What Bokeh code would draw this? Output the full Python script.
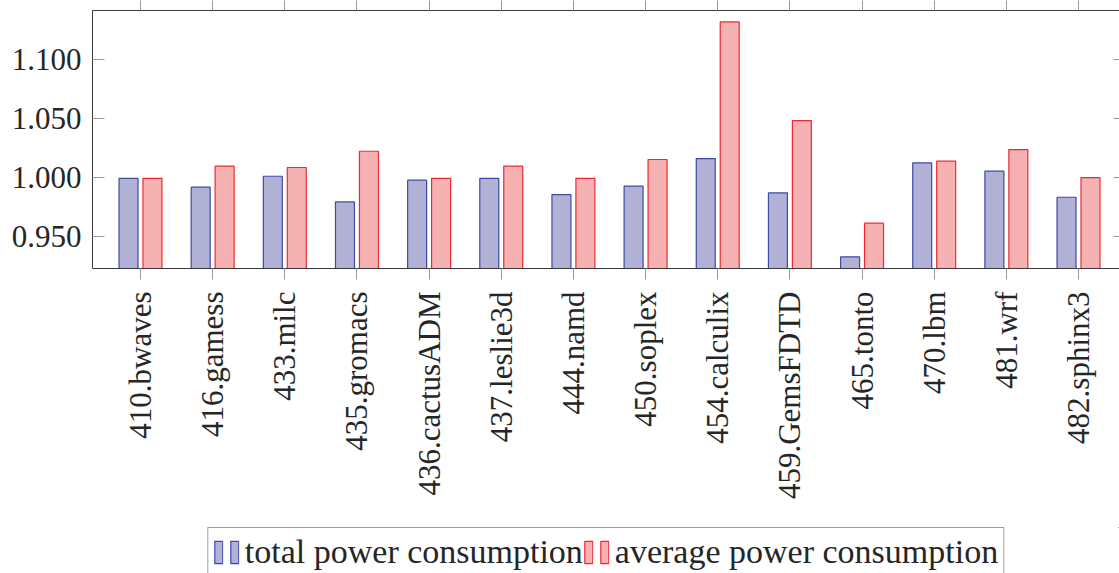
import math
from bokeh.plotting import figure
from bokeh.layouts import column
from bokeh.models import (Range1d, FixedTicker, LinearAxis, Legend, LegendItem,
                          NumeralTickFormatter, ColumnDataSource, CustomJSTickFormatter)
from bokeh.transform import dodge
from bokeh.core.properties import value
from bokeh.embed import file_html
from bokeh.resources import INLINE

benchmarks = ["410.bwaves", "416.gamess", "433.milc", "435.gromacs", "436.cactusADM",
              "437.leslie3d", "444.namd", "450.soplex", "454.calculix", "459.GemsFDTD",
              "465.tonto", "470.lbm", "481.wrf", "482.sphinx3"]
total_power = [0.999, 0.9915, 1.0008, 0.979, 0.9975, 0.999, 0.9853, 0.9924, 1.0158,
               0.9867, 0.9325, 1.0121, 1.0051, 0.983]
average_power = [0.999, 1.0093, 1.0082, 1.022, 0.999, 1.0093, 0.999, 1.015, 1.1316,
                 1.048, 0.961, 1.0136, 1.0234, 0.9997]
y_ticks = [0.95, 1.0, 1.05, 1.1]
series_names = ["total power consumption", "average power consumption"]

positions = list(range(len(benchmarks)))
src = ColumnDataSource(dict(pos=positions, total=total_power, avg=average_power))

FONT = "'Liberation Serif', 'DejaVu Serif', serif"
TEXT = "#262626"
AXIS = "#3a3a3a"
TICK = "#9a9a9a"
BLUE_FILL, BLUE_LINE = "#b1b1d6", "#3b4ba6"
RED_FILL, RED_LINE = "#f6b1b3", "#ee2a30"

p = figure(width=1119, height=527, output_backend="svg", toolbar_location=None,
           x_range=Range1d(-0.665, 13.568), y_range=Range1d(0.9226, 1.1413),
           min_border_left=92, min_border_right=0, min_border_top=10, min_border_bottom=259,
           x_axis_location=None, y_axis_location=None)
p.outline_line_color = None
for g in p.grid:
    g.visible = False

blank = CustomJSTickFormatter(code="return ''")

bottom = LinearAxis(ticker=FixedTicker(ticks=positions),
                    major_label_overrides={i: n for i, n in zip(positions, benchmarks)},
                    major_label_orientation=math.pi / 2,
                    major_label_text_font=FONT, major_label_text_font_size="31px",
                    major_label_text_color=TEXT, major_label_standoff=12,
                    major_tick_in=0, major_tick_out=11, major_tick_line_color=TICK,
                    minor_tick_line_color=None, axis_line_color=AXIS)
p.add_layout(bottom, "below")

left = LinearAxis(ticker=FixedTicker(ticks=y_ticks), formatter=NumeralTickFormatter(format="0.000"),
                  major_label_text_font=FONT, major_label_text_font_size="31px",
                  major_label_text_color=TEXT, major_label_standoff=11,
                  major_tick_in=12, major_tick_out=0, major_tick_line_color=TICK,
                  minor_tick_line_color=None, axis_line_color=AXIS)
p.add_layout(left, "left")

top = LinearAxis(ticker=FixedTicker(ticks=positions), formatter=blank,
                 major_label_text_font_size="0px", major_label_standoff=0,
                 major_tick_in=0, major_tick_out=10, major_tick_line_color=TICK,
                 minor_tick_line_color=None, axis_line_color=AXIS)
p.add_layout(top, "above")

right = LinearAxis(ticker=FixedTicker(ticks=y_ticks), formatter=blank,
                   major_label_text_font_size="0px", major_label_standoff=0,
                   major_tick_in=6, major_tick_out=0, major_tick_line_color=TICK,
                   minor_tick_line_color=None, axis_line_color=None)
p.add_layout(right, "right")

bar_style = dict(width=0.263, bottom=0.9, source=src, line_width=1.2)
p.vbar(x=dodge("pos", -0.166), top="total", fill_color=BLUE_FILL, line_color=BLUE_LINE, **bar_style)
p.vbar(x=dodge("pos", 0.166), top="avg", fill_color=RED_FILL, line_color=RED_LINE, **bar_style)

# legend strip below the chart (its bars sit outside its visible ranges; only the legend shows)
lp = figure(width=1119, height=46, output_backend="svg", toolbar_location=None,
            x_range=Range1d(-100, -99), y_range=Range1d(-100, -99),
            min_border_left=92, min_border_right=0, min_border_top=0, min_border_bottom=0,
            x_axis_location=None, y_axis_location=None)
lp.outline_line_color = None
for g in lp.grid:
    g.visible = False
lg_total = lp.vbar(x=dodge("pos", -0.166), top="total", fill_color=BLUE_FILL, line_color=BLUE_LINE, **bar_style)
lg_avg = lp.vbar(x=dodge("pos", 0.166), top="avg", fill_color=RED_FILL, line_color=RED_LINE, **bar_style)

legend = Legend(items=[LegendItem(label=value(""), renderers=[lg_total]),
                       LegendItem(label=value(series_names[0]), renderers=[lg_total]),
                       LegendItem(label=value(""), renderers=[lg_avg]),
                       LegendItem(label=value(series_names[1]), renderers=[lg_avg])],
                orientation="horizontal", location="top",
                glyph_width=10, glyph_height=28, label_standoff=6, spacing=0,
                padding=5, margin=0, label_width=0,
                label_text_font=FONT, label_text_font_size="34px", label_text_color=TEXT,
                border_line_color="#444444", border_line_width=1,
                background_fill_color="white", background_fill_alpha=1)
lp.add_layout(legend, "center")

layout = column(p, lp, spacing=0)
open("out.html", "w").write(file_html(layout, INLINE))
